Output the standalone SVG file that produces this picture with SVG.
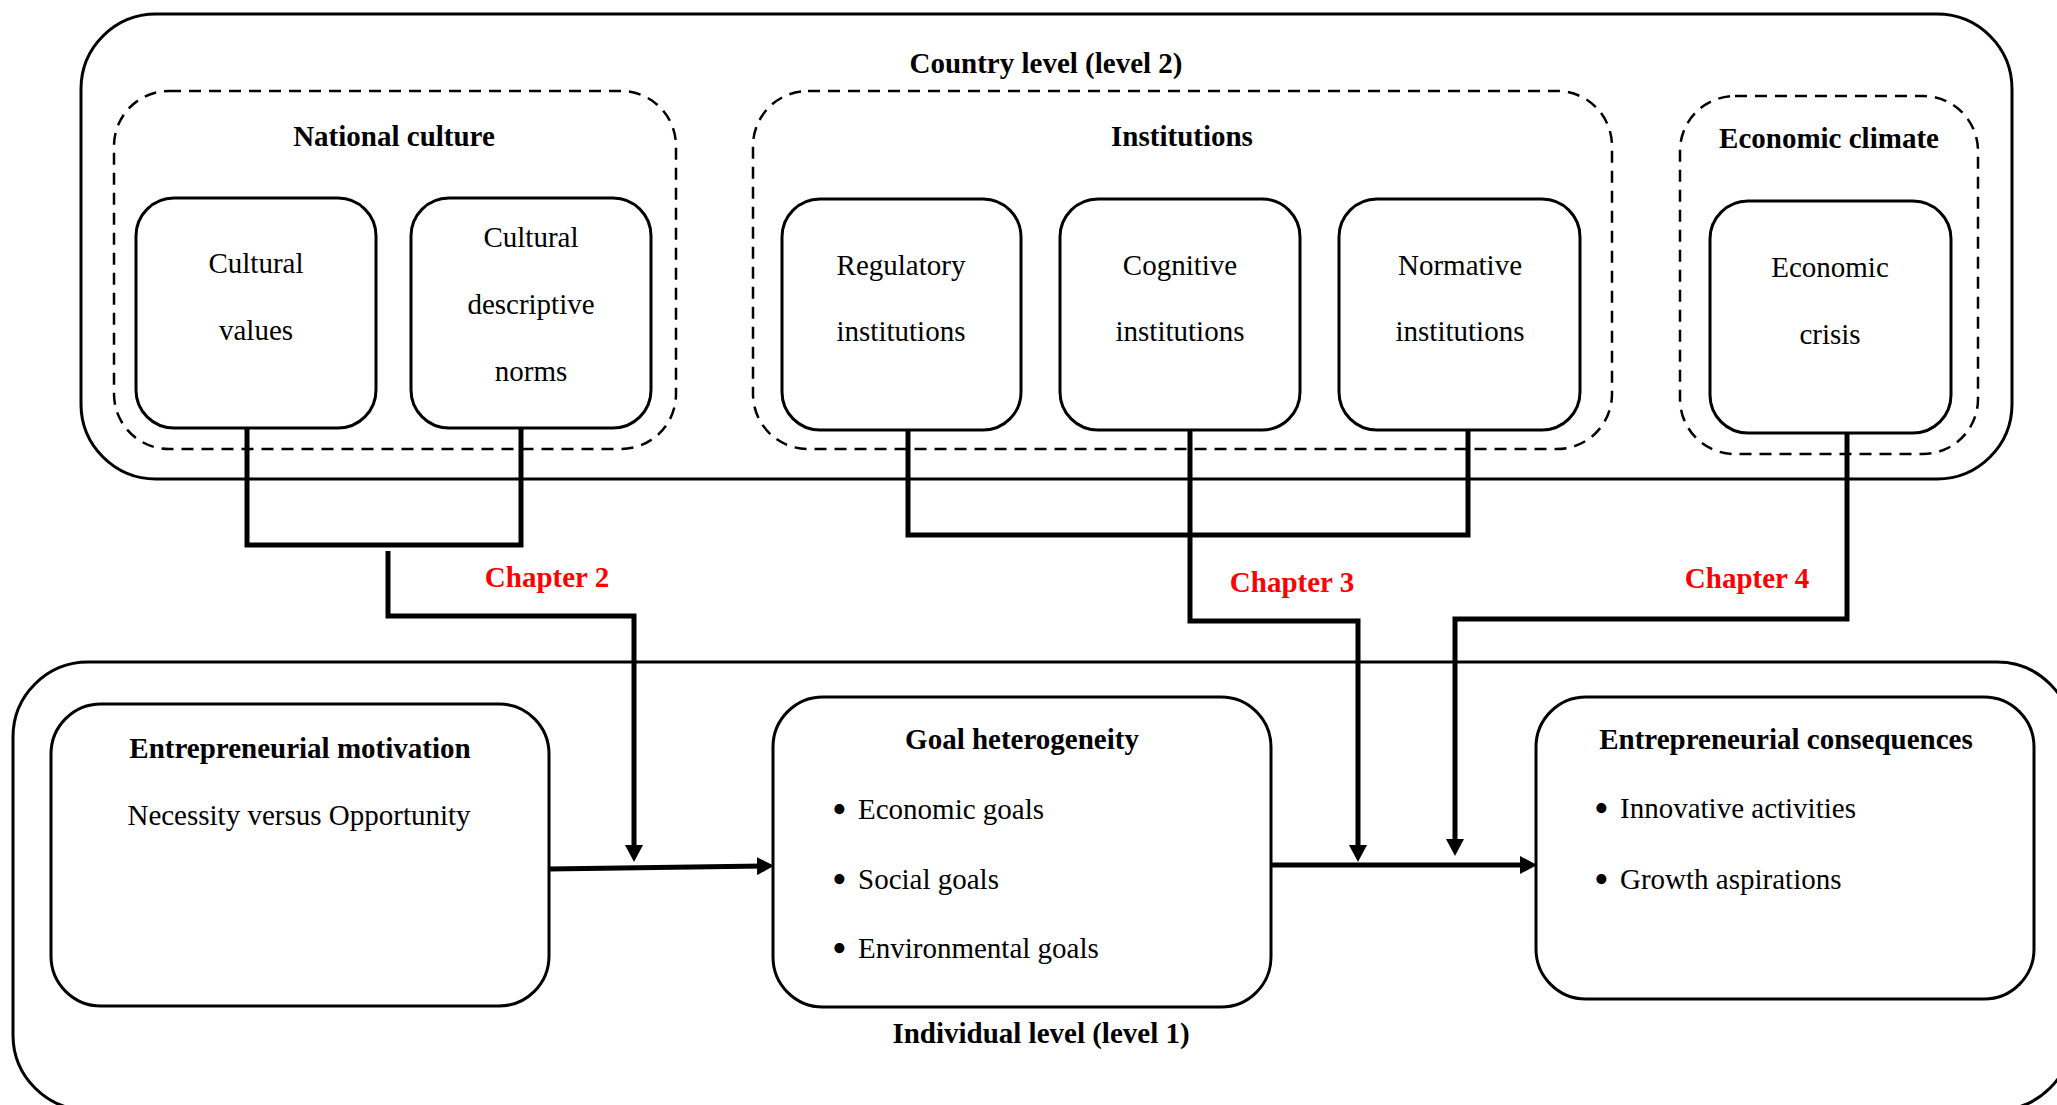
<svg xmlns="http://www.w3.org/2000/svg" width="2057" height="1105" viewBox="0 0 2057 1105">
<style>
text{font-family:"Liberation Serif","Times New Roman",serif;font-size:29px;fill:#000}
.b{font-weight:bold}
.c{text-anchor:middle}
.bu{font-size:42px}
.red{fill:#ff0000;font-weight:bold}
.frame{fill:none;stroke:#000;stroke-width:3}
.dash{fill:none;stroke:#000;stroke-width:2.5;stroke-dasharray:12 8}
.box{fill:#fff;stroke:#000;stroke-width:3}
.con{fill:none;stroke:#000;stroke-width:5}
.arr{fill:none;stroke:#000;stroke-width:5;marker-end:url(#ah)}
</style>
<defs>
<marker id="ah" markerUnits="userSpaceOnUse" markerWidth="18" markerHeight="18" refX="8" refY="9" orient="auto" viewBox="0 0 18 18">
<path d="M0,0 L17,9 L0,18 z" fill="#000"/>
</marker>
</defs>
<rect width="2057" height="1105" fill="#fff"/>

<g id="country-level">
<rect class="frame" x="81" y="14" width="1931" height="465" rx="75"/>
<text class="b c" x="1046" y="73">Country level (level 2)</text>
</g>

<g id="individual-level">
<rect class="frame" x="13" y="662" width="2059" height="448" rx="75"/>
<text class="b c" x="1041" y="1043">Individual level (level 1)</text>
</g>

<g id="national-culture">
<rect class="dash" x="114" y="91" width="562" height="358" rx="55"/>
<text class="b c" x="394" y="146">National culture</text>
</g>
<g id="institutions">
<rect class="dash" x="753" y="91" width="859" height="358" rx="55"/>
<text class="b c" x="1182" y="146">Institutions</text>
</g>
<g id="economic-climate">
<rect class="dash" x="1680" y="96" width="298" height="358" rx="55"/>
<text class="b c" x="1829" y="148">Economic climate</text>
</g>

<g id="connectors">
<polyline class="con" points="247,428 247,545 521,545 521,428"/>
<polyline class="arr" points="388,551 388,616 634,616 634,853"/>
<polyline class="con" points="908,430 908,535 1468,535 1468,430"/>
<polyline class="arr" points="1190,430 1190,621 1358,621 1358,853"/>
<polyline class="arr" points="1847,433 1847,619 1455,619 1455,847"/>
<line class="arr" x1="549" y1="869" x2="765" y2="866"/>
<line class="arr" x1="1271" y1="865" x2="1528" y2="865"/>
</g>

<g id="cultural-values">
<rect class="box" x="136" y="198" width="240" height="230" rx="38"/>
<text class="c" x="256" y="273">Cultural</text>
<text class="c" x="256" y="340">values</text>
</g>
<g id="cultural-descriptive-norms">
<rect class="box" x="411" y="198" width="240" height="230" rx="38"/>
<text class="c" x="531" y="247">Cultural</text>
<text class="c" x="531" y="314">descriptive</text>
<text class="c" x="531" y="381">norms</text>
</g>
<g id="regulatory-institutions">
<rect class="box" x="782" y="199" width="239" height="231" rx="38"/>
<text class="c" x="901" y="275">Regulatory</text>
<text class="c" x="901" y="341">institutions</text>
</g>
<g id="cognitive-institutions">
<rect class="box" x="1060" y="199" width="240" height="231" rx="38"/>
<text class="c" x="1180" y="275">Cognitive</text>
<text class="c" x="1180" y="341">institutions</text>
</g>
<g id="normative-institutions">
<rect class="box" x="1339" y="199" width="241" height="231" rx="38"/>
<text class="c" x="1460" y="275">Normative</text>
<text class="c" x="1460" y="341">institutions</text>
</g>
<g id="economic-crisis">
<rect class="box" x="1710" y="201" width="241" height="232" rx="38"/>
<text class="c" x="1830" y="277">Economic</text>
<text class="c" x="1830" y="344">crisis</text>
</g>

<g id="chapter-labels">
<text class="red c" x="547" y="587">Chapter 2</text>
<text class="red c" x="1292" y="592">Chapter 3</text>
<text class="red c" x="1747" y="588">Chapter 4</text>
</g>

<g id="entrepreneurial-motivation">
<rect class="box" x="51" y="704" width="498" height="302" rx="50"/>
<text class="b c" x="300" y="758">Entrepreneurial motivation</text>
<text class="c" x="299" y="825">Necessity versus Opportunity</text>
</g>
<g id="goal-heterogeneity">
<rect class="box" x="773" y="697" width="498" height="310" rx="50"/>
<text class="b c" x="1022" y="749">Goal heterogeneity</text>
<text class="bu" x="832" y="823">•</text><text x="858" y="819">Economic goals</text>
<text class="bu" x="832" y="893">•</text><text x="858" y="889">Social goals</text>
<text class="bu" x="832" y="962">•</text><text x="858" y="958">Environmental goals</text>
</g>
<g id="entrepreneurial-consequences">
<rect class="box" x="1536" y="697" width="498" height="302" rx="50"/>
<text class="b c" x="1786" y="749">Entrepreneurial consequences</text>
<text class="bu" x="1594" y="822">•</text><text x="1620" y="818">Innovative activities</text>
<text class="bu" x="1594" y="893">•</text><text x="1620" y="889">Growth aspirations</text>
</g>
</svg>
